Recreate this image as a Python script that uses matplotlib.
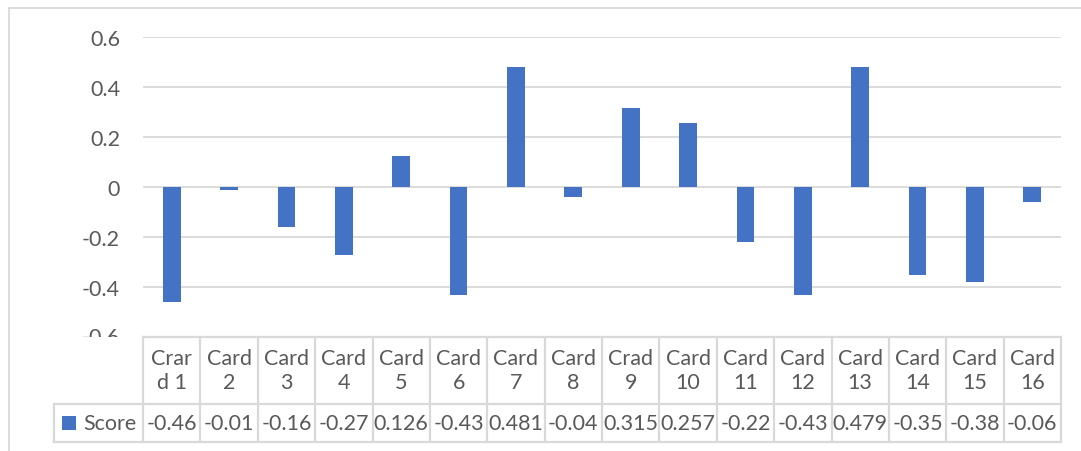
import matplotlib
matplotlib.use("Agg")
import matplotlib.pyplot as plt
from matplotlib.patches import Rectangle

# data
categories = ["Crard 1", "Card 2", "Card 3", "Card 4", "Card 5", "Card 6", "Card 7", "Card 8",
              "Crad 9", "Card 10", "Card 11", "Card 12", "Card 13", "Card 14", "Card 15", "Card 16"]
header_labels = ["Crar\nd 1", "Card\n2", "Card\n3", "Card\n4", "Card\n5", "Card\n6", "Card\n7", "Card\n8",
                 "Crad\n9", "Card\n10", "Card\n11", "Card\n12", "Card\n13", "Card\n14", "Card\n15", "Card\n16"]
score = [-0.46, -0.01, -0.16, -0.27, 0.126, -0.43, 0.481, -0.04,
         0.315, 0.257, -0.22, -0.43, 0.479, -0.35, -0.38, -0.06]
score_text = ["-0.46", "-0.01", "-0.16", "-0.27", "0.126", "-0.43", "0.481", "-0.04",
              "0.315", "0.257", "-0.22", "-0.43", "0.479", "-0.35", "-0.38", "-0.06"]
yticks = [-0.6, -0.4, -0.2, 0, 0.2, 0.4, 0.6]
ytick_labels = ["-0.6", "-0.4", "-0.2", "0", "0.2", "0.4", "0.6"]

BLUE = "#4472C4"
GRID = "#D9D9D9"
TXT = "#595959"
FS = 15.5

plt.rcParams["font.family"] = ["Lato", "DejaVu Sans"]

W, H = 1081, 452
fig = plt.figure(figsize=(W / 100, H / 100), dpi=100)


def fx(px):
    return px / W


def fy(py):
    return 1 - py / H


# outer chart border
fig.add_artist(plt.Line2D([fx(8.5), fx(8.5)], [fy(8.5), fy(H)], color=GRID, lw=1.3))
fig.add_artist(plt.Line2D([fx(8.5), fx(W)], [fy(8.5), fy(8.5)], color=GRID, lw=1.3))

x_left, x_right = 143, 1061
y_top, y_bottom = 38, 338
ax = fig.add_axes([fx(x_left), fy(y_bottom), fx(x_right - x_left), (y_bottom - y_top) / H])
n = len(score)
xs = list(range(n))
ax.bar(xs, score, width=0.31, color=BLUE, zorder=3)
ax.set_xlim(-0.5, n - 0.5)
ax.set_ylim(-0.6, 0.6)
ax.set_yticks(yticks)
ax.set_yticklabels(ytick_labels)
ax.tick_params(axis="y", length=0, pad=16.5, labelsize=FS, labelcolor=TXT)
ax.set_xticks([])
for s in ax.spines.values():
    s.set_visible(False)
ax.grid(axis="y", color=GRID, lw=1.3, zorder=0)
ax.set_axisbelow(True)
# bottom tick label half hidden behind the table
ax.get_yticklabels()[0].set_visible(False)
fig.text(fx(120), fy(338), "-0.6", ha="right", va="center", fontsize=FS, color=TXT,
         clip_on=True).set_clip_path(Rectangle((0, H - 338), W, 338, transform=None))

# data table
t_top, t_mid, t_bot = 338, 404.5, 443
tax = fig.add_axes([fx(x_left), fy(t_bot), fx(x_right - x_left), (t_bot - t_top) / H])
tax.set_xlim(-0.5, n - 0.5)
tax.set_ylim(t_bot, t_top)
tax.axis("off")
col_w = (x_right - x_left) / n
left_cell = -0.5 - (x_left - 54) / col_w
tax.add_patch(Rectangle((-0.5, t_top), n, t_mid - t_top, facecolor="white", edgecolor="none",
                        zorder=1, clip_on=False))
kw = dict(color=GRID, lw=1.6, clip_on=False, zorder=2, solid_capstyle="projecting")
tax.plot([-0.5, n - 0.5], [t_top, t_top], **kw)
tax.plot([left_cell, n - 0.5], [t_mid, t_mid], **kw)
tax.plot([left_cell, n - 0.5], [t_bot, t_bot], **kw)
tax.plot([left_cell, left_cell], [t_mid, t_bot], **kw)
for i in range(n + 1):
    tax.plot([i - 0.5, i - 0.5], [t_top, t_bot], **kw)
for i in range(n):
    tax.text(i, (t_top + t_mid) / 2, header_labels[i], ha="center", va="center", fontsize=FS,
             color=TXT, linespacing=1.25, zorder=3)
    tax.text(i, (t_mid + t_bot) / 2, score_text[i], ha="center", va="center", fontsize=FS,
             color=TXT, zorder=3)
fig.add_artist(Rectangle((fx(62), fy(431)), fx(14), 14 / H, facecolor=BLUE, edgecolor="none"))
fig.text(fx(83), fy(424), "Score", ha="left", va="center", fontsize=FS, color=TXT)

fig.savefig("out.png", dpi=100)
